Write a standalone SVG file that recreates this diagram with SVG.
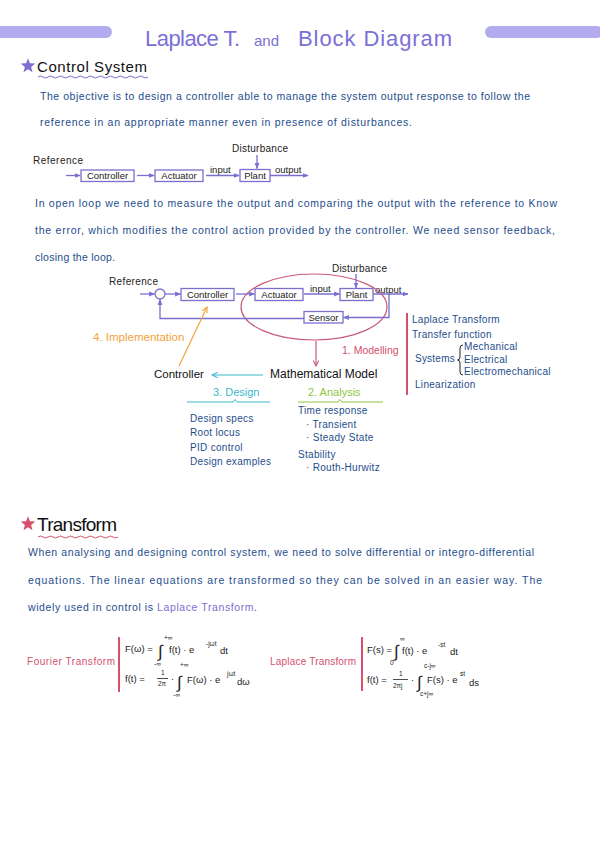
<svg xmlns="http://www.w3.org/2000/svg" width="600" height="848" viewBox="0 0 600 848">
<style>
text{font-family:"Liberation Sans","DejaVu Sans",sans-serif;}
.para{font-size:10.5px;fill:#1e4d8c;}
.lbl{font-size:10px;fill:#222;}
.bx{font-size:9.5px;fill:#222;}
.box{fill:#fff;stroke:#7a6fcf;stroke-width:1.3;}
.lnk{fill:none;stroke:#7a6fcf;stroke-width:1.3;}
.list{font-size:10px;fill:#1e4d8c;letter-spacing:0.3px;}
.fx{font-size:9.5px;fill:#222;}
.sm{font-size:6.5px;fill:#222;}
.int{font-size:17px;fill:#222;}
.red{fill:#d4506e;}
</style>
<defs>
<marker id="ap" viewBox="0 0 10 10" refX="9" refY="5" markerWidth="6" markerHeight="6" orient="auto" markerUnits="userSpaceOnUse"><path d="M0,1 L10,5 L0,9 Z" fill="#7a6fcf"/></marker>
<marker id="ar" viewBox="0 0 10 10" refX="9" refY="5" markerWidth="7" markerHeight="7" orient="auto" markerUnits="userSpaceOnUse"><path d="M1,1 L9,5 L1,9" fill="none" stroke="#c65a78" stroke-width="1.5"/></marker>
<marker id="ao" viewBox="0 0 10 10" refX="9" refY="5" markerWidth="7" markerHeight="7" orient="auto" markerUnits="userSpaceOnUse"><path d="M1,1 L9,5 L1,9" fill="none" stroke="#f2a33a" stroke-width="1.5"/></marker>
<marker id="ac" viewBox="0 0 10 10" refX="9" refY="5" markerWidth="7" markerHeight="7" orient="auto" markerUnits="userSpaceOnUse"><path d="M1,1 L9,5 L1,9" fill="none" stroke="#3cb8cc" stroke-width="1.5"/></marker>
<path id="star" d="M0,-7 L1.76,-2.43 L6.66,-2.16 L2.85,0.93 L4.11,5.66 L0,3 L-4.11,5.66 L-2.85,0.93 L-6.66,-2.16 L-1.76,-2.43 Z" transform="scale(1.1)"/>
</defs>
<rect width="600" height="848" fill="#fff"/>

<!-- Header -->
<g id="header">
<rect x="-6" y="26" width="118" height="12" rx="6" fill="#b2acee"/>
<rect x="485" y="26" width="118" height="12" rx="6" fill="#b2acee"/>
<text y="46" fill="#7b70d6" font-size="22"><tspan x="145" textLength="95">Laplace T.</tspan><tspan x="254" font-size="15">and</tspan><tspan x="298" textLength="154">Block Diagram</tspan></text>
</g>

<g id="heading-control">
<use href="#star" x="28" y="66" fill="#7b6fd0"/>
<text x="37" y="72" font-size="15" fill="#111" textLength="110">Control System</text>
<path d="M38,77 q2.5,-2 5,0 t5,0 t5,0 t5,0 t5,0 t5,0 t5,0 t5,0 t5,0 t5,0 t5,0 t5,0 t5,0 t5,0 t5,0 t5,0 t5,0 t5,0 t5,0 t5,0 t5,0 t5,0" fill="none" stroke="#7b6fd0" stroke-width="1"/>
</g>

<g id="para1">
<text class="para" x="40" y="100" textLength="490">The objective is to design a controller able to manage the system output response to follow the</text>
<text class="para" x="40" y="126" textLength="372">reference in an appropriate manner even in presence of disturbances.</text>
</g>

<!-- Open loop diagram -->
<g id="ol-reference"><text class="lbl" x="33" y="164" textLength="50">Reference</text></g>
<g id="ol-controller"><rect class="box" x="81" y="170" width="53" height="11.5"/><text class="bx" x="107.5" y="179.2" text-anchor="middle">Controller</text></g>
<g id="ol-actuator"><rect class="box" x="155" y="170" width="48" height="11.5"/><text class="bx" x="179" y="179.2" text-anchor="middle">Actuator</text></g>
<g id="ol-plant"><rect class="box" x="240" y="169.5" width="30" height="12"/><text class="bx" x="255" y="179.2" text-anchor="middle">Plant</text></g>
<g id="ol-disturbance"><text class="lbl" x="232" y="152" textLength="56">Disturbance</text></g>
<g id="ol-labels"><text class="bx" x="210" y="173">input</text><text class="bx" x="275" y="173">output</text></g>
<g id="ol-connectors">
<path class="lnk" d="M66,175.5 H80" marker-end="url(#ap)"/>
<path class="lnk" d="M137,175.5 H154" marker-end="url(#ap)"/>
<path class="lnk" d="M206,175.5 H239" marker-end="url(#ap)"/>
<path class="lnk" d="M257,155 V168.5" marker-end="url(#ap)"/>
<path class="lnk" d="M270,175.5 H308" marker-end="url(#ap)"/>
</g>

<g id="para2">
<text class="para" x="35" y="207" textLength="522">In open loop we need to measure the output and comparing the output with the reference to Know</text>
<text class="para" x="35" y="234" textLength="520">the error, which modifies the control action provided by the controller. We need sensor feedback,</text>
<text class="para" x="35" y="261" textLength="80">closing the loop.</text>
</g>

<!-- Closed loop diagram -->
<g id="cl-reference"><text class="lbl" x="109" y="285" textLength="49">Reference</text></g>
<g id="cl-sum"><circle cx="160" cy="294" r="5" fill="#fff" stroke="#7a6fcf" stroke-width="1.3"/></g>
<g id="cl-controller"><rect class="box" x="181" y="288.5" width="53" height="12"/><text class="bx" x="207.5" y="298" text-anchor="middle">Controller</text></g>
<g id="cl-actuator"><rect class="box" x="255" y="288.5" width="48" height="12"/><text class="bx" x="279" y="298" text-anchor="middle">Actuator</text></g>
<g id="cl-plant"><rect class="box" x="340" y="288.5" width="33" height="12"/><text class="bx" x="356.5" y="298" text-anchor="middle">Plant</text></g>
<g id="cl-sensor"><rect class="box" x="304" y="311.5" width="39" height="11.5"/><text class="bx" x="323.5" y="320.7" text-anchor="middle">Sensor</text></g>
<g id="cl-disturbance"><text class="lbl" x="332" y="272" textLength="55">Disturbance</text></g>
<g id="cl-labels"><text class="bx" x="310" y="292">input</text><text class="bx" x="375" y="293">output</text></g>
<g id="model-ellipse"><ellipse cx="314" cy="307" rx="73" ry="33" fill="none" stroke="#c65a78" stroke-width="1.2"/></g>
<g id="modelling-label"><text x="342" y="354" font-size="10.5" fill="#d4506e">1. Modelling</text></g>
<g id="math-model"><text x="270" y="378" font-size="12" fill="#111">Mathematical Model</text></g>
<g id="controller-design"><text x="154" y="378" font-size="11.5" fill="#111">Controller</text></g>
<g id="implementation-label"><text x="93" y="341" font-size="11.5" fill="#f2a33a">4. Implementation</text></g>
<g id="cl-connectors">
<path class="lnk" d="M140,294 H154.5" marker-end="url(#ap)"/>
<path class="lnk" d="M165,294 H180.5" marker-end="url(#ap)"/>
<path class="lnk" d="M236,294 H254.5" marker-end="url(#ap)"/>
<path class="lnk" d="M304,294 H339.5" marker-end="url(#ap)"/>
<path class="lnk" d="M356,274 V288" marker-end="url(#ap)"/>
<path class="lnk" d="M373,294 H408" marker-end="url(#ap)"/>
<path class="lnk" d="M389,294 V317.5 H343.5" marker-end="url(#ap)"/>
<path class="lnk" d="M304,318.5 H160 V299.5" marker-end="url(#ap)"/>
<path d="M316,341 V366" fill="none" stroke="#c65a78" stroke-width="1.2" marker-end="url(#ar)"/>
<path d="M263,375 H212" fill="none" stroke="#3cb8cc" stroke-width="1.2" marker-end="url(#ac)"/>
<path d="M179,366 L207,307" fill="none" stroke="#f2a33a" stroke-width="1.2" marker-end="url(#ao)"/>
</g>

<!-- Modelling list -->
<g id="modelling-list">
<rect x="406" y="313" width="2" height="82" fill="#d4506e"/>
<text class="list" x="412" y="323">Laplace Transform</text>
<text class="list" x="412" y="338">Transfer function</text>
<text class="list" x="415" y="362" textLength="40">Systems</text>
<path d="M463,345 Q460,345 460,348 V357 Q460,360 457.5,360 Q460,360 460,363 V372 Q460,375 463,375" fill="none" stroke="#222" stroke-width="1"/>
<text class="list" x="464" y="350" font-size="9">Mechanical</text>
<text class="list" x="464" y="363" font-size="9">Electrical</text>
<text class="list" x="464" y="375" font-size="9">Electromechanical</text>
<text class="list" x="415" y="388">Linearization</text>
</g>

<!-- Design list -->
<g id="design-list">
<text x="213" y="396" font-size="11" fill="#3cb8cc">3. Design</text>
<path d="M187,402 H233 L235,399.5 L237,402 H270" fill="none" stroke="#3cb8cc" stroke-width="1"/>
<text class="list" x="190" y="422">Design  specs</text>
<text class="list" x="190" y="436">Root locus</text>
<text class="list" x="190" y="451">PID control</text>
<text class="list" x="190" y="465">Design  examples</text>
</g>

<!-- Analysis list -->
<g id="analysis-list">
<text x="308" y="396" font-size="11" fill="#8cc63f">2. Analysis</text>
<path d="M298,402 H338 L340,399.5 L342,402 H383" fill="none" stroke="#8cc63f" stroke-width="1"/>
<text class="list" x="298" y="414">Time response</text>
<text class="list" x="306" y="428">· Transient</text>
<text class="list" x="306" y="441">· Steady State</text>
<text class="list" x="298" y="458">Stability</text>
<text class="list" x="306" y="471">· Routh-Hurwitz</text>
</g>

<!-- Transform section -->
<g id="heading-transform">
<use href="#star" x="28" y="524" fill="#d9506c"/>
<text x="37" y="531" font-size="19" fill="#111" textLength="80">Transform</text>
<path d="M38,537 q2.5,-2 5,0 t5,0 t5,0 t5,0 t5,0 t5,0 t5,0 t5,0 t5,0 t5,0 t5,0 t5,0 t5,0 t5,0 t5,0 t5,0" fill="none" stroke="#d9506c" stroke-width="1"/>
</g>

<g id="para3">
<text class="para" x="28" y="556" textLength="506">When analysing and designing control system, we need to solve  differential  or integro-differential</text>
<text class="para" x="28" y="584" textLength="514">equations. The linear equations are transformed so they can be solved in an easier way. The</text>
<text class="para" x="28" y="611" textLength="229">widely used in control is <tspan fill="#7b6fd0">Laplace Transform</tspan>.</text>
</g>

<!-- Fourier -->
<g id="fourier">
<text x="27" y="665" font-size="10" class="red" textLength="88">Fourier Transform</text>
<rect x="118" y="637" width="2" height="55" fill="#d4506e"/>
<text class="fx" x="125" y="652">F(ω) =</text>
<text class="int" x="158" y="657">∫</text>
<text class="sm" x="164" y="640">+∞</text>
<text class="sm" x="154" y="666">-∞</text>
<text class="fx" x="169" y="653">f(t) · e</text>
<text class="sm" x="206" y="646">-jωt</text>
<text class="fx" x="220" y="654">dt</text>
<text class="fx" x="125" y="682">f(t) =</text>
<text class="sm" x="161" y="675">1</text>
<path d="M157,678.5 H168" stroke="#222" stroke-width="0.8"/>
<text class="sm" x="158" y="686">2π</text>
<text class="fx" x="171" y="682">·</text>
<text class="int" x="177" y="688">∫</text>
<text class="sm" x="180" y="667">+∞</text>
<text class="sm" x="173" y="697">-∞</text>
<text class="fx" x="187" y="683">F(ω) · e</text>
<text class="sm" x="227" y="676">jωt</text>
<text class="fx" x="237" y="685">dω</text>
</g>

<!-- Laplace -->
<g id="laplace">
<text x="270" y="665" font-size="10" class="red" textLength="86">Laplace Transform</text>
<rect x="361" y="637" width="2" height="54" fill="#d4506e"/>
<text class="fx" x="367" y="653">F(s) =</text>
<text class="int" x="394" y="657">∫</text>
<text class="sm" x="400" y="641">∞</text>
<text class="sm" x="390" y="665">0</text>
<text class="fx" x="402" y="654">f(t) · e</text>
<text class="sm" x="438" y="647">-st</text>
<text class="fx" x="450" y="655">dt</text>
<text class="fx" x="367" y="683">f(t) =</text>
<text class="sm" x="399" y="676">1</text>
<path d="M393,679.5 H408" stroke="#222" stroke-width="0.8"/>
<text class="sm" x="393" y="688">2πj</text>
<text class="fx" x="411" y="683">·</text>
<text class="int" x="417" y="688">∫</text>
<text class="sm" x="424" y="668">c-j∞</text>
<text class="sm" x="420" y="696">c+j∞</text>
<text class="fx" x="427" y="683">F(s) · e</text>
<text class="sm" x="460" y="676">st</text>
<text class="fx" x="469" y="686">ds</text>
</g>
</svg>
